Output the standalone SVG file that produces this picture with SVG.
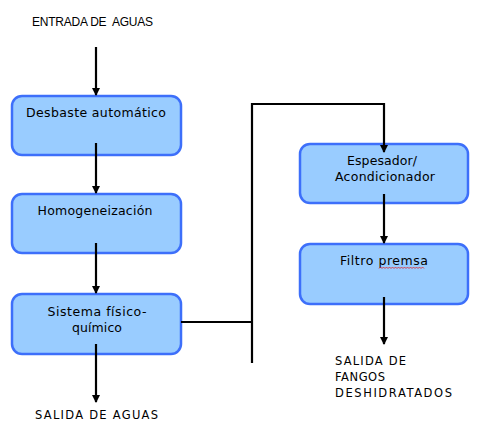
<svg xmlns="http://www.w3.org/2000/svg" width="482" height="443" viewBox="0 0 482 443">
<style>
.box{fill:#99ccff;stroke:#3d6ffa;stroke-width:2.5}
.lbl{font-family:"DejaVu Sans",Verdana,sans-serif;font-size:12.5px;fill:#000;text-anchor:middle}
.cap{font-family:"DejaVu Sans",Verdana,sans-serif;font-size:11.5px;fill:#000}
.ent{font-family:"Liberation Sans",Arial,sans-serif;font-size:12px;fill:#000;white-space:pre}
.ln{fill:none;stroke:#000;stroke-width:2.2}
</style>
<defs>
<marker id="ah" markerWidth="8" markerHeight="8" refX="7" refY="4" orient="auto" markerUnits="userSpaceOnUse">
<path d="M0,0 L8,4 L0,8 Z" fill="#000"/>
</marker>
</defs>
<rect width="482" height="443" fill="#fff"/>
<text class="ent" x="32" y="26" textLength="121" lengthAdjust="spacing" xml:space="preserve">ENTRADA DE  AGUAS</text>
<text class="cap" x="35" y="419" textLength="123" lengthAdjust="spacing">SALIDA DE AGUAS</text>
<text class="cap" x="335" y="365" textLength="71" lengthAdjust="spacing">SALIDA DE</text>
<text class="cap" x="335" y="381" textLength="50" lengthAdjust="spacing">FANGOS</text>
<text class="cap" x="335" y="397" textLength="117" lengthAdjust="spacing">DESHIDRATADOS</text>
<g id="n1"><rect class="box" x="12" y="96" width="169" height="59" rx="10"/><text class="lbl" x="96" y="117" textLength="140" lengthAdjust="spacing">Desbaste automático</text></g>
<g id="n2"><rect class="box" x="12" y="194" width="169" height="59" rx="10"/><text class="lbl" x="95" y="215" textLength="115" lengthAdjust="spacing">Homogeneización</text></g>
<g id="n3"><rect class="box" x="12" y="294" width="169" height="60" rx="10"/><text class="lbl" x="97" y="316" textLength="99" lengthAdjust="spacing">Sistema físico-</text><text class="lbl" x="97" y="332" textLength="50" lengthAdjust="spacing">químico</text></g>
<g id="n4"><rect class="box" x="300" y="144" width="168" height="59" rx="10"/><text class="lbl" x="382" y="165" textLength="70" lengthAdjust="spacing">Espesador/</text><text class="lbl" x="385" y="181" textLength="100" lengthAdjust="spacing">Acondicionador</text></g>
<g id="n5"><rect class="box" x="300" y="244" width="168" height="60" rx="10"/><text class="lbl" x="384" y="265" textLength="88" lengthAdjust="spacing">Filtro premsa</text>
<path d="M379,268.5 l1.5,-1.5 l1.5,1.5 l1.5,-1.5 l1.5,1.5 l1.5,-1.5 l1.5,1.5 l1.5,-1.5 l1.5,1.5 l1.5,-1.5 l1.5,1.5 l1.5,-1.5 l1.5,1.5 l1.5,-1.5 l1.5,1.5 l1.5,-1.5 l1.5,1.5 l1.5,-1.5 l1.5,1.5 l1.5,-1.5 l1.5,1.5 l1.5,-1.5 l1.5,1.5 l1.5,-1.5 l1.5,1.5 l1.5,-1.5 l1.5,1.5 l1.5,-1.5 l1.5,1.5 l1.5,-1.5 l1.5,1.5" fill="none" stroke="#e02020" stroke-width="0.8"/></g>
<g id="connectors">
<line class="ln" x1="96" y1="47" x2="96" y2="95" marker-end="url(#ah)"/>
<line class="ln" x1="96" y1="143" x2="96" y2="193" marker-end="url(#ah)"/>
<line class="ln" x1="96" y1="243" x2="96" y2="293" marker-end="url(#ah)"/>
<line class="ln" x1="96" y1="344" x2="96" y2="402" marker-end="url(#ah)"/>
<line class="ln" x1="181" y1="322" x2="252" y2="322"/>
<polyline class="ln" points="252,363 252,104 384,104 384,152" marker-end="url(#ah)"/>
<line class="ln" x1="384" y1="194" x2="384" y2="243" marker-end="url(#ah)"/>
<line class="ln" x1="384" y1="297" x2="384" y2="344" marker-end="url(#ah)"/>
</g>
</svg>
